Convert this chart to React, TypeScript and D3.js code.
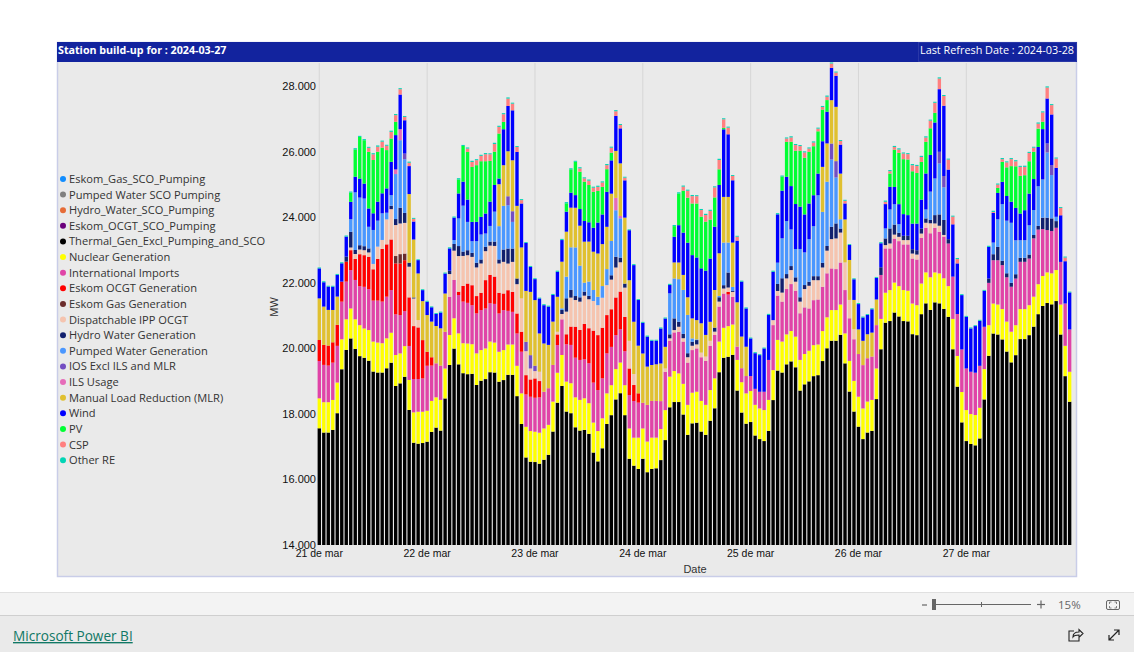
import React from "react";
import * as d3 from "d3";

const dayLabels = ["21 de mar", "22 de mar", "23 de mar", "24 de mar", "25 de mar", "26 de mar", "27 de mar"];
const yTicks = [14000, 16000, 18000, 20000, 22000, 24000, 26000, 28000];
const none = [0, 0, 0, 0, 0, 0, 0, 0, 0, 0, 0, 0, 0, 0, 0, 0, 0, 0, 0, 0, 0, 0, 0, 0];

const thermal = [
  17560, 17430, 17430, 17510, 18020, 19360, 19950, 20300, 19980, 19760, 19710, 19620, 19290, 19260, 19260, 19390, 19560, 18850, 18930, 19130, 18120, 17120, 17090, 17110,
  17150, 17450, 17580, 17490, 18470, 19490, 19990, 19510, 19240, 19210, 19220, 18880, 19010, 19060, 19270, 19260, 18980, 19030, 19190, 19190, 18540, 17690, 16670, 16540,
  16530, 16480, 16600, 16750, 17460, 18340, 18850, 18070, 18020, 17590, 17490, 17510, 17390, 16820, 16550, 16950, 17690, 17960, 18440, 18630, 17960, 16630, 16420, 16320,
  16630, 16220, 16320, 16340, 16590, 17200, 18200, 18360, 18360, 17980, 17360, 17710, 17730, 17460, 17360, 17790, 18170, 19270, 19710, 19740, 19800, 18710, 18040, 17700,
  17750, 17340, 17230, 17170, 17480, 18420, 19320, 19260, 19510, 19600, 19420, 18710, 18900, 18990, 19150, 19180, 19610, 20000, 20230, 20230, 20410, 19540, 18680, 18070,
  17610, 17230, 17430, 17480, 18450, 19970, 20780, 20830, 21090, 20970, 20830, 20820, 20430, 20400, 21040, 21370, 21170, 21400, 21370, 21200, 20960, 19970, 18830, 17740,
  17170, 17080, 17040, 17250, 18440, 19770, 20450, 20420, 20270, 19900, 19570, 19790, 20280, 20280, 20400, 20660, 21040, 21290, 21380, 21340, 21440, 20420, 19150, 18370,
];
const nuclear = [
  914, 925, 925, 914, 935, 914, 935, 914, 904, 945, 894, 935, 914, 914, 894, 914, 914, 945, 914, 935, 914, 925, 975, 955,
  945, 945, 925, 935, 914, 914, 925, 945, 914, 935, 904, 965, 935, 935, 935, 914, 914, 914, 925, 925, 925, 935, 935, 935,
  925, 945, 955, 914, 914, 914, 945, 914, 914, 914, 935, 965, 935, 914, 925, 914, 935, 914, 925, 935, 914, 925, 853, 955,
  925, 935, 955, 935, 945, 914, 935, 945, 874, 935, 914, 935, 945, 935, 914, 935, 914, 935, 914, 935, 925, 935, 925, 925,
  945, 935, 935, 945, 945, 914, 935, 945, 914, 925, 935, 935, 925, 935, 945, 935, 914, 945, 935, 935, 925, 914, 935, 935,
  914, 935, 945, 945, 935, 925, 914, 945, 914, 925, 945, 935, 935, 914, 935, 945, 996, 914, 914, 935, 935, 925, 935, 925,
  945, 914, 925, 935, 925, 935, 914, 914, 925, 914, 935, 914, 914, 914, 914, 914, 914, 914, 935, 945, 945, 914, 925, 914,
];
const imports = [
  1138, 1138, 1118, 1138, 1118, 1148, 1148, 1168, 1199, 1189, 1270, 1250, 1250, 1280, 1270, 1270, 1300, 1240, 1168, 1067, 1036, 1016, 996, 1016,
  1372, 1077, 1036, 1046, 1118, 1168, 1168, 1168, 1270, 1240, 1189, 1219, 1219, 1219, 1168, 1179, 1168, 1219, 1026, 996, 986, 1270, 986, 1046,
  1036, 1077, 1118, 1118, 1118, 843, 1087, 1138, 1168, 1209, 1219, 1189, 1219, 1219, 1250, 1219, 1219, 1168, 1036, 1016, 1036, 1016, 1118, 1067,
  782, 1118, 1118, 1118, 853, 1168, 1097, 1179, 1270, 1290, 1290, 1300, 1321, 1331, 1341, 1351, 1321, 1067, 1046, 965, 843, 406, 427, 528,
  457, 488, 508, 559, 1219, 1372, 1351, 1219, 1382, 1433, 1402, 1422, 1422, 1290, 1372, 1372, 1351, 1341, 1270, 1250, 1280, 1321, 1300, 1270,
  1300, 1321, 1321, 1321, 1321, 1341, 1351, 1270, 1341, 1372, 1392, 1412, 1372, 1392, 1392, 1361, 1341, 1361, 1270, 1270, 1300, 1290, 1280, 1300,
  1270, 1290, 1290, 1280, 1290, 1290, 1321, 1351, 1341, 1351, 1372, 1422, 1443, 1443, 1422, 1778, 1666, 1433, 1290, 1290, 1290, 1300, 1290, 1290,
];
const ocgt = [
  640, 610, 610, 620, 640, 610, 610, 610, 640, 975, 965, 986, 955, 1270, 1605, 1595, 1544, 1554, 1575, 1554, 1483, 1615, 1575, 1168,
  427, 254, 0, 0, 0, 0, 0, 102, 478, 589, 610, 528, 528, 864, 864, 833, 630, 508, 630, 610, 610, 610, 589, 528,
  589, 498, 0, 0, 0, 325, 0, 305, 559, 945, 914, 1077, 1067, 1585, 1676, 1544, 1168, 1148, 1148, 1148, 1046, 813, 488, 284,
  0, 0, 0, 0, 0, 0, 0, 0, 0, 0, 0, 0, 0, 0, 0, 0, 0, 0, 0, 81, 0, 0, 0, 0,
  ...none, ...none, ...none,
];
const gas = [
  0, 0, 0, 0, 0, 0, 0, 0, 0, 0, 0, 0, 0, 0, 0, 0, 0, 224, 284, 203, 0, 0, 0, 0,
  ...none, ...none, ...none, ...none, ...none, ...none,
];
const ipp = [
  0, 0, 0, 0, 0, 0, 0, 81, 152, 142, 152, 132, 163, 376, 274, 762, 925, 945, 935, 935, 935, 843, 224, 0,
  0, 0, 0, 0, 0, 691, 894, 1087, 914, 864, 864, 874, 894, 884, 894, 935, 894, 965, 813, 914, 894, 1016, 732, 335,
  224, 284, 0, 0, 0, 81, 163, 691, 884, 813, 864, 864, 884, 904, 914, 914, 914, 904, 914, 894, 894, 843, 335, 0,
  0, 0, 0, 0, 0, 102, 71, 71, 152, 102, 163, 132, 122, 142, 132, 152, 102, 152, 152, 132, 152, 0, 0, 0,
  0, 0, 0, 0, 0, 152, 142, 274, 325, 427, 274, 356, 559, 691, 610, 589, 589, 691, 894, 935, 914, 843, 559, 305,
  0, 0, 0, 0, 0, 0, 102, 152, 122, 132, 132, 132, 152, 152, 132, 152, 305, 132, 183, 51, 0, 0, 0, 0,
  ...none,
];
const hydro = [
  0, 0, 0, 0, 0, 0, 152, 478, 122, 132, 122, 122, 0, 0, 0, 0, 102, 183, 478, 305, 122, 30, 0, 0,
  0, 0, 0, 0, 0, 102, 203, 305, 132, 152, 122, 142, 122, 132, 122, 132, 122, 376, 457, 406, 173, 0, 0, 0,
  0, 0, 0, 0, 0, 0, 122, 406, 234, 122, 132, 122, 102, 0, 0, 0, 0, 132, 325, 142, 122, 0, 0, 0,
  0, 0, 0, 0, 0, 0, 122, 356, 152, 132, 122, 122, 132, 0, 0, 0, 122, 132, 102, 457, 30, 0, 0, 0,
  0, 0, 0, 0, 0, 0, 213, 437, 132, 122, 132, 132, 122, 122, 122, 122, 142, 142, 376, 457, 122, 0, 0, 0,
  0, 0, 0, 0, 0, 234, 203, 457, 305, 122, 132, 132, 132, 132, 152, 132, 102, 254, 345, 457, 132, 0, 0, 0,
  0, 0, 0, 0, 0, 132, 183, 406, 132, 122, 122, 132, 122, 122, 122, 102, 112, 345, 376, 386, 203, 0, 0, 0,
];
const pumped = [
  0, 0, 0, 0, 0, 0, 0, 386, 1758, 1453, 1453, 660, 1036, 792, 813, 203, 325, 1372, 2062, 1636, 0, 0, 0, 0,
  0, 0, 0, 0, 0, 0, 122, 843, 1402, 864, 356, 660, 762, 406, 478, 914, 1016, 1331, 1321, 813, 0, 0, 0, 0,
  0, 0, 0, 0, 0, 0, 51, 660, 1300, 1483, 965, 274, 437, 335, 254, 356, 488, 1046, 1422, 1199, 0, 0, 0, 0,
  0, 0, 0, 0, 0, 0, 1250, 1219, 1300, 1341, 1168, 102, 20, 0, 0, 0, 0, 41, 1300, 914, 122, 0, 0, 0,
  0, 0, 0, 0, 0, 0, 650, 1219, 1615, 1118, 864, 1473, 996, 1300, 1524, 2469, 1554, 1961, 2052, 1402, 284, 0, 0, 0,
  0, 0, 0, 0, 0, 0, 305, 579, 620, 264, 0, 0, 0, 0, 0, 274, 864, 1118, 1554, 996, 0, 0, 0, 0,
  0, 0, 0, 0, 0, 0, 356, 843, 1727, 1605, 1829, 1036, 538, 538, 894, 762, 1209, 1168, 1991, 1321, 132, 0, 0, 0,
];
const ios = [
  0, 0, 0, 0, 0, 0, 0, 0, 0, 0, 0, 0, 0, 0, 0, 0, 0, 0, 0, 173, 0, 0, 0, 0,
  0, 0, 0, 0, 0, 0, 0, 0, 0, 0, 0, 0, 0, 0, 0, 0, 0, 0, 274, 325, 0, 0, 284, 406,
  163, 0, 0, 0, 0, 0, 0, 0, 0, 0, 0, 0, 0, 0, 0, 0, 0, 0, 0, 0, 0, 0, 0, 0,
  ...none,
  0, 0, 0, 0, 0, 0, 0, 0, 0, 0, 0, 0, 0, 0, 0, 0, 0, 0, 488, 498, 0, 0, 0, 0,
  0, 0, 0, 0, 0, 0, 0, 0, 0, 0, 0, 0, 0, 0, 0, 0, 0, 0, 356, 345, 0, 0, 0, 0,
  0, 0, 0, 0, 0, 0, 0, 0, 0, 0, 0, 0, 0, 0, 0, 0, 0, 0, 274, 305, 0, 0, 0, 0,
];
const ils = [
  0, 0, 0, 0, 0, 0, 0, 0, 0, 0, 0, 0, 0, 0, 0, 0, 0, 142, 335, 0, 0, 0, 0, 0,
  ...none,
  0, 0, 0, 0, 0, 0, 0, 0, 0, 0, 0, 0, 0, 0, 0, 0, 0, 0, 376, 71, 0, 0, 0, 0,
  ...none, ...none, ...none, ...none,
];
const mlr = [
  1270, 1168, 1087, 986, 864, 0, 0, 0, 0, 0, 0, 0, 0, 0, 0, 0, 0, 0, 0, 0, 2093, 1768, 1422, 1189,
  1118, 1087, 1138, 1138, 1168, 0, 0, 0, 0, 0, 0, 0, 0, 0, 0, 0, 1280, 1240, 1372, 1554, 2215, 1554, 1554, 1930,
  2002, 1168, 1473, 1321, 1321, 1067, 1422, 1372, 1209, 1209, 1219, 1250, 1219, 1168, 1321, 1280, 1290, 1443, 1433, 1605, 2012, 1849, 1595, 1453,
  1504, 1168, 1097, 1118, 1148, 660, 0, 488, 508, 457, 538, 610, 589, 894, 660, 579, 1148, 1300, 1392, 1392, 1351, 1351, 965, 894,
  0, 0, 0, 0, 0, 0, 0, 0, 0, 0, 0, 0, 0, 0, 0, 0, 1372, 1168, 1321, 1656, 1392, 1311, 1219, 894,
  752, 742, 732, 732, 782, 0, 0, 0, 0, 0, 0, 0, 0, 0, 0, 0, 0, 0, 0, 0, 0, 0, 0, 0,
  ...none,
];
const wind = [
  914, 742, 711, 711, 660, 559, 610, 528, 478, 579, 457, 559, 508, 579, 610, 742, 1016, 1046, 1057, 1016, 853, 549, 406, 335,
  406, 437, 366, 478, 610, 681, 681, 762, 732, 681, 589, 589, 538, 610, 742, 813, 173, 1097, 1382, 1524, 1646, 1341, 1463, 762,
  640, 1067, 1168, 1168, 813, 762, 660, 610, 457, 386, 508, 630, 589, 732, 945, 904, 1067, 1016, 1067, 1067, 1138, 1524, 1727, 1392,
  935, 914, 742, 721, 1067, 864, 254, 782, 1138, 1290, 1666, 1930, 1910, 1676, 1961, 1930, 1930, 2083, 2062, 1910, 1900, 1880, 1676, 1168,
  1148, 1087, 1118, 1321, 1372, 1473, 1473, 1453, 1351, 1321, 1372, 1290, 1158, 1087, 945, 660, 782, 965, 986, 945, 884, 488, 457, 630,
  772, 711, 589, 711, 660, 732, 742, 691, 528, 610, 660, 630, 782, 813, 884, 1097, 1118, 1707, 1910, 2144, 2123, 1595, 1544, 1656,
  1575, 1321, 1422, 1372, 1097, 965, 904, 803, 681, 752, 640, 986, 813, 914, 965, 945, 1199, 1534, 1372, 1544, 1494, 1422, 1290, 1128,
];
const pv = [
  0, 0, 0, 0, 0, 0, 0, 284, 833, 1270, 1321, 1727, 1626, 1524, 1392, 1168, 711, 406, 0, 0, 0, 0, 0, 0,
  0, 0, 0, 0, 0, 0, 0, 427, 1087, 1453, 1676, 1727, 1697, 1595, 1240, 1016, 1372, 224, 0, 0, 0, 0, 0, 0,
  0, 0, 0, 0, 0, 0, 0, 254, 711, 1016, 1138, 1199, 1138, 1097, 965, 843, 691, 234, 0, 0, 0, 0, 0, 0,
  0, 0, 0, 0, 0, 0, 0, 325, 965, 1280, 1372, 1575, 1646, 1575, 1494, 1189, 894, 478, 41, 0, 0, 0, 0, 0,
  0, 0, 0, 0, 0, 0, 0, 427, 1067, 1351, 1626, 1707, 1727, 1575, 1494, 1290, 965, 356, 0, 0, 0, 0, 0, 0,
  0, 0, 0, 0, 0, 0, 0, 406, 1138, 1565, 1676, 1697, 1595, 1544, 1148, 965, 813, 295, 0, 0, 0, 0, 0, 0,
  0, 0, 0, 0, 0, 0, 0, 152, 610, 874, 1087, 1270, 1148, 1067, 986, 833, 559, 224, 0, 0, 0, 0, 0, 0,
];
const csp = [
  0, 0, 0, 0, 0, 0, 0, 0, 0, 0, 0, 122, 173, 152, 183, 132, 203, 203, 163, 102, 102, 81, 0, 0,
  0, 0, 0, 0, 0, 0, 0, 0, 0, 102, 152, 152, 163, 213, 203, 234, 203, 234, 224, 203, 152, 102, 0, 0,
  0, 0, 0, 0, 0, 0, 0, 0, 0, 0, 102, 102, 132, 122, 122, 132, 122, 152, 142, 102, 81, 0, 0, 0,
  0, 0, 0, 0, 0, 0, 0, 0, 0, 122, 213, 224, 224, 203, 203, 264, 305, 284, 264, 203, 132, 122, 0, 0,
  0, 0, 0, 0, 0, 0, 0, 0, 102, 132, 173, 142, 163, 102, 112, 81, 81, 102, 132, 102, 112, 81, 0, 0,
  0, 0, 0, 0, 0, 0, 71, 71, 81, 102, 173, 163, 183, 213, 152, 132, 234, 305, 325, 295, 305, 234, 132, 0,
  0, 0, 0, 0, 0, 0, 30, 102, 81, 152, 213, 152, 274, 254, 254, 122, 152, 284, 335, 284, 284, 224, 112, 0,
];
const otherRe = [
  28, 30, 26, 27, 30, 32, 34, 31, 36, 33, 35, 30, 34, 38, 32, 30, 36, 33, 31, 28, 34, 29, 25, 27,
  30, 26, 28, 31, 29, 33, 35, 38, 32, 34, 36, 31, 33, 35, 30, 37, 34, 32, 36, 30, 28, 31, 26, 29,
  27, 25, 30, 28, 31, 34, 36, 38, 33, 31, 35, 30, 34, 32, 36, 33, 35, 31, 34, 29, 28, 26, 30, 27,
  29, 31, 26, 28, 32, 30, 36, 34, 38, 33, 31, 35, 30, 32, 36, 34, 33, 37, 31, 30, 28, 26, 29, 31,
  27, 30, 28, 26, 33, 35, 37, 34, 31, 36, 32, 30, 34, 33, 35, 31, 30, 36, 33, 29, 28, 30, 26, 29,
  31, 28, 26, 30, 27, 33, 36, 34, 32, 35, 31, 30, 37, 33, 34, 36, 30, 32, 35, 31, 28, 30, 33, 29,
  27, 30, 26, 31, 28, 34, 36, 33, 35, 30, 32, 34, 31, 36, 33, 30, 35, 32, 34, 31, 29, 27, 30, 26,
];

const legendNames = [
  "Eskom_Gas_SCO_Pumping", "Pumped Water SCO Pumping", "Hydro_Water_SCO_Pumping", "Eskom_OCGT_SCO_Pumping",
  "Thermal_Gen_Excl_Pumping_and_SCO", "Nuclear Generation", "International Imports", "Eskom OCGT Generation",
  "Eskom Gas Generation", "Dispatchable IPP OCGT", "Hydro Water Generation", "Pumped Water Generation",
  "IOS Excl ILS and MLR", "ILS Usage", "Manual Load Reduction (MLR)", "Wind", "PV", "CSP", "Other RE",
];
const legendColors = [
  "#118dff", "#808080", "#e66c37", "#6b007b", "#000000", "#ffff00", "#e044a7", "#ff0000", "#6b2c2c", "#f5c4af",
  "#12206e", "#4a97ff", "#744ec2", "#e66cb9", "#e0c030", "#0000ff", "#00ff33", "#ff8080", "#01d5b5",
];
const seriesValues: Record<string, number[]> = {
  "Thermal_Gen_Excl_Pumping_and_SCO": thermal,
  "Nuclear Generation": nuclear,
  "International Imports": imports,
  "Eskom OCGT Generation": ocgt,
  "Eskom Gas Generation": gas,
  "Dispatchable IPP OCGT": ipp,
  "Hydro Water Generation": hydro,
  "Pumped Water Generation": pumped,
  "IOS Excl ILS and MLR": ios,
  "ILS Usage": ils,
  "Manual Load Reduction (MLR)": mlr,
  "Wind": wind,
  "PV": pv,
  "CSP": csp,
  "Other RE": otherRe,
};

const UI = "'Open Sans', 'Noto Sans', sans-serif";
const AX = "'Liberation Sans', Arial, sans-serif";

export default function App() {
  const hours = d3.range(thermal.length);
  const keys = Object.keys(seriesValues);
  const rows = hours.map((h) => {
    const row: Record<string, number> = {};
    keys.forEach((k) => (row[k] = seriesValues[k][h]));
    return row;
  });
  const stacked = d3.stack<Record<string, number>>().keys(keys)(rows);

  const x = d3.scaleBand<number>().domain(hours).range([317.05, 1071.9]).paddingInner(0.25).paddingOuter(0.125);
  const y = d3.scaleLinear().domain([14000, 28700]).range([545, 63]);
  const yFmt = d3.format(",.3f");
  const colorOf = d3.scaleOrdinal<string, string>().domain(legendNames).range(legendColors);
  const cx = (h: number) => (x(h) as number) + x.bandwidth() / 2;

  return (
    <div style={{ position: "absolute", left: 0, top: 0, width: 1134, height: 652 }}>
      <svg width={1134} height={652} style={{ display: "block", background: "#fff" }}>
        {/* panel */}
        <rect x={57.5} y={42.5} width={1019} height={534} fill="#eaeaea" stroke="#c9cde8" strokeWidth={1.5} />
        <rect x={57} y={42} width={1020} height={20} fill="#12239e" />
        <text x={58} y={54} fill="#fff" fontFamily={UI} fontWeight={700} fontSize={10.7}>Station build-up for : 2024-03-27</text>
        <rect x={918.5} y={42.5} width={158} height={19} fill="#12239e" stroke="#3a47b0" strokeWidth={0.6} />
        <text x={920} y={54} fill="#fff" fontFamily={UI} fontSize={10.85}>Last Refresh Date : 2024-03-28</text>

        {/* legend */}
        {legendNames.map((n, i) => {
          const ly = 179 + i * 15.62;
          return (
            <g key={n}>
              <circle cx={63} cy={ly} r={3} fill={colorOf(n)} />
              <text x={69} y={ly + 4} fontFamily={UI} fontSize={11.1} fill="#333">{n}</text>
            </g>
          );
        })}

        {/* grid */}
        {dayLabels.map((d, i) => (
          <line key={d} x1={cx(i * 24)} x2={cx(i * 24)} y1={63} y2={545} stroke="#d6d6d6" />
        ))}

        {/* bars */}
        {stacked.map((s) => (
          <g key={s.key} fill={colorOf(s.key)}>
            {s.map((d, h) =>
              d[1] - d[0] > 0 ? (
                <rect key={h} x={x(h)} width={x.bandwidth()} y={y(d[1])} height={Math.max(0, y(Math.max(d[0], 14000)) - y(d[1]))} />
              ) : null
            )}
          </g>
        ))}

        {/* axes */}
        {yTicks.map((t) => (
          <text key={t} x={316} y={y(t) + 4} textAnchor="end" fontFamily={AX} fontSize={11} fill="#111">
            {yFmt(t / 1000).replace(",", ".")}
          </text>
        ))}
        {dayLabels.map((d, i) => (
          <text key={d} x={cx(i * 24)} y={557} textAnchor="middle" fontFamily={AX} fontSize={10.5} fill="#111">{d}</text>
        ))}
        <text transform="translate(278,307) rotate(-90)" textAnchor="middle" fontFamily={AX} fontSize={11} fill="#333">MW</text>
        <text x={695} y={573} textAnchor="middle" fontFamily={AX} fontSize={11} fill="#333">Date</text>

        {/* zoom bar */}
        <rect x={0} y={592} width={1134} height={23} fill="#f3f3f3" />
        <line x1={0} x2={1134} y1={592.5} y2={592.5} stroke="#e0e0e0" />
        <rect x={0} y={615} width={1134} height={37} fill="#eaeaea" />
        <line x1={0} x2={1134} y1={615.5} y2={615.5} stroke="#cfcfcf" />
        <line x1={922} x2={927} y1={605} y2={605} stroke="#666" strokeWidth={1.2} />
        <line x1={932} x2={1031} y1={604.5} y2={604.5} stroke="#666" />
        <line x1={981.5} x2={981.5} y1={602} y2={607} stroke="#666" />
        <rect x={932} y={599} width={4} height={11} fill="#666" />
        <line x1={1037} x2={1045} y1={604.5} y2={604.5} stroke="#666" strokeWidth={1.2} />
        <line x1={1041} x2={1041} y1={600.5} y2={608.5} stroke="#666" strokeWidth={1.2} />
        <text x={1058} y={609} fontFamily={UI} fontSize={11.5} fill="#666">15%</text>
        <rect x={1106.5} y={600.5} width={13} height={9} rx={1.5} fill="none" stroke="#666" />
        <path d="M1109.5 604v-2h2M1116.5 604v-2h-2M1109.5 606v2h2M1116.5 606v2h-2" fill="none" stroke="#666" strokeWidth={0.8} />

        {/* footer */}
        <text x={13} y={641} fontFamily={UI} fontSize={13.6} fill="#117865" textDecoration="underline">Microsoft Power BI</text>
        <path d="M1074 631h-5v10h10v-4M1073 637c0-3 2-5 6-5v-2.5l4 4-4 4V635c-3 0-5 .5-6 2z" fill="none" stroke="#222" strokeWidth={1.1} />
        <path d="M1109 640l10-10M1114 630h5v5M1109 635v5h5" fill="none" stroke="#222" strokeWidth={1.2} />
      </svg>
    </div>
  );
}
